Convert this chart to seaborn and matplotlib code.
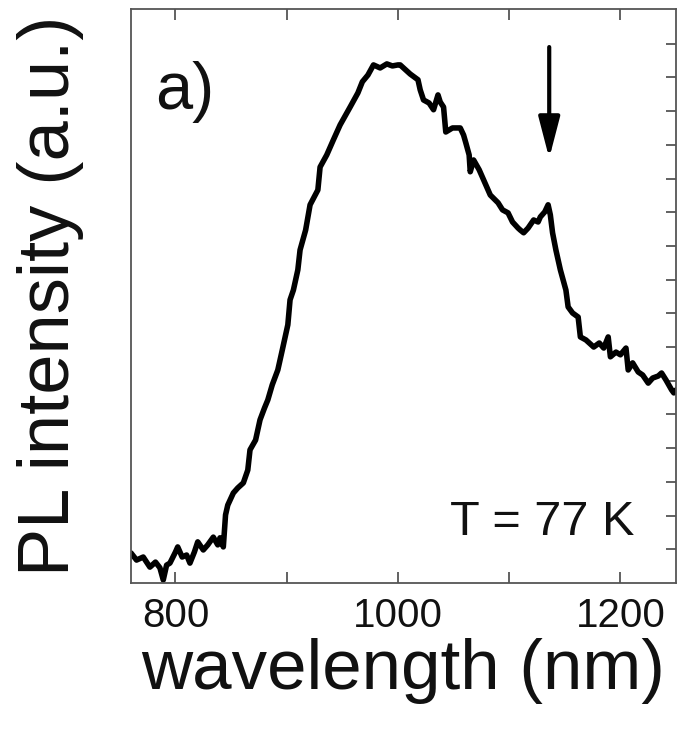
import matplotlib
matplotlib.use("Agg")
import matplotlib.pyplot as plt
import seaborn as sns
import pandas as pd

sns.set_theme(style="white")
plt.rcParams['font.family'] = ['Liberation Sans', 'DejaVu Sans']

wavelength = [760, 765, 771, 777, 782, 786, 789, 792, 795, 800, 802, 806, 810, 813, 817, 820,
              825, 829, 834, 838, 840, 843, 845, 847, 852, 856, 861, 865, 867, 872, 876, 880,
              883, 887, 892, 896, 901, 903, 906, 910, 912, 917, 921, 928, 930, 936, 942, 948,
              957, 964, 968, 973, 978, 984, 990, 995, 1000, 1002, 1007, 1011, 1018, 1020, 1023,
              1028, 1032, 1036, 1038, 1041, 1043, 1049, 1056, 1059, 1061, 1064, 1065, 1068, 1073,
              1077, 1083, 1090, 1094, 1099, 1103, 1108, 1110, 1113, 1117, 1122, 1126, 1128, 1132,
              1135, 1137, 1139, 1142, 1146, 1151, 1153, 1157, 1162, 1164, 1169, 1176, 1181, 1185,
              1189, 1191, 1196, 1200, 1205, 1207, 1211, 1216, 1220, 1225, 1229, 1234, 1237, 1241,
              1246, 1248, 1252]
intensity = [0.89, 0.68, 0.77, 0.47, 0.62, 0.45, 0.09, 0.53, 0.59, 0.92, 1.07, 0.77, 0.83, 0.59,
             0.92, 1.22, 0.98, 1.13, 1.36, 1.13, 1.34, 1.07, 2.02, 2.31, 2.67, 2.82, 2.97, 3.35,
             3.95, 4.24, 4.84, 5.19, 5.43, 5.88, 6.32, 6.91, 7.66, 8.40, 8.69, 9.29, 9.88, 10.47,
             11.22, 11.66, 12.34, 12.70, 13.15, 13.59, 14.12, 14.54, 14.87, 15.07, 15.37, 15.28,
             15.40, 15.34, 15.37, 15.37, 15.22, 15.10, 14.93, 14.63, 14.33, 14.24, 14.04, 14.48,
             14.27, 14.12, 13.38, 13.50, 13.50, 13.29, 13.06, 12.70, 12.20, 12.55, 12.26, 11.96,
             11.51, 11.28, 11.07, 10.98, 10.71, 10.53, 10.47, 10.39, 10.53, 10.77, 10.71, 10.86,
             11.01, 11.22, 10.92, 10.39, 9.88, 9.29, 8.69, 8.19, 8.01, 7.89, 7.30, 7.21, 7.00,
             7.12, 6.97, 7.30, 6.71, 6.85, 6.77, 6.97, 6.32, 6.53, 6.26, 6.17, 5.93, 6.08, 6.14,
             6.23, 6.02, 5.73, 5.64, 5.79]

x_ticks = [800, 900, 1000, 1100, 1200]
x_labels = ["800", "", "1000", "", "1200"]
y_ticks = list(range(1, 17))

arrow_x = 1136
arrow_top = 15.9
arrow_tip = 12.6

df = pd.DataFrame({"wavelength": wavelength, "intensity": intensity})

fig = plt.figure(figsize=(6.88, 7.29), dpi=100)
ax = fig.add_axes([0.1904, 0.2003, 0.7922, 0.7874])

sns.lineplot(data=df, x="wavelength", y="intensity", ax=ax, color="black",
             linewidth=4, estimator=None, sort=True)

ax.set_xlim(760, 1250)
ax.set_ylim(0, 17.03)

for s in ax.spines.values():
    s.set_color("#555555")
    s.set_linewidth(1.3)
    s.set_visible(True)

ax.set_xticks(x_ticks)
ax.set_xticklabels(x_labels)
ax.tick_params(axis="x", which="major", direction="in", length=8, width=1.3,
               color="#555555", top=True, bottom=True, labelsize=29, pad=10,
               labelcolor="#111111")

ax.yaxis.tick_right()
ax.set_yticks(y_ticks)
ax.set_yticklabels([])
ax.tick_params(axis="y", which="major", direction="in", length=7, width=1.3,
               color="#555555", left=False, right=True)

ax.set_xlabel("wavelength (nm)", fontsize=51, labelpad=2, color="#111111")
ax.set_ylabel("PL intensity (a.u.)", fontsize=52, labelpad=34, color="#111111")
ax.yaxis.set_label_position("left")

ax.text(0.045, 0.825, "a)", transform=ax.transAxes, fontsize=48, color="#111111")
ax.text(0.585, 0.083, "T = 77 K", transform=ax.transAxes, fontsize=35, color="#111111")

ax.annotate("", xy=(arrow_x, arrow_tip), xytext=(arrow_x, arrow_top),
            arrowprops=dict(arrowstyle="-|>,head_length=2.5,head_width=0.65",
                            lw=3, color="black", mutation_scale=10,
                            shrinkA=0, shrinkB=0))

fig.savefig("out.png", dpi=100, facecolor="white")
